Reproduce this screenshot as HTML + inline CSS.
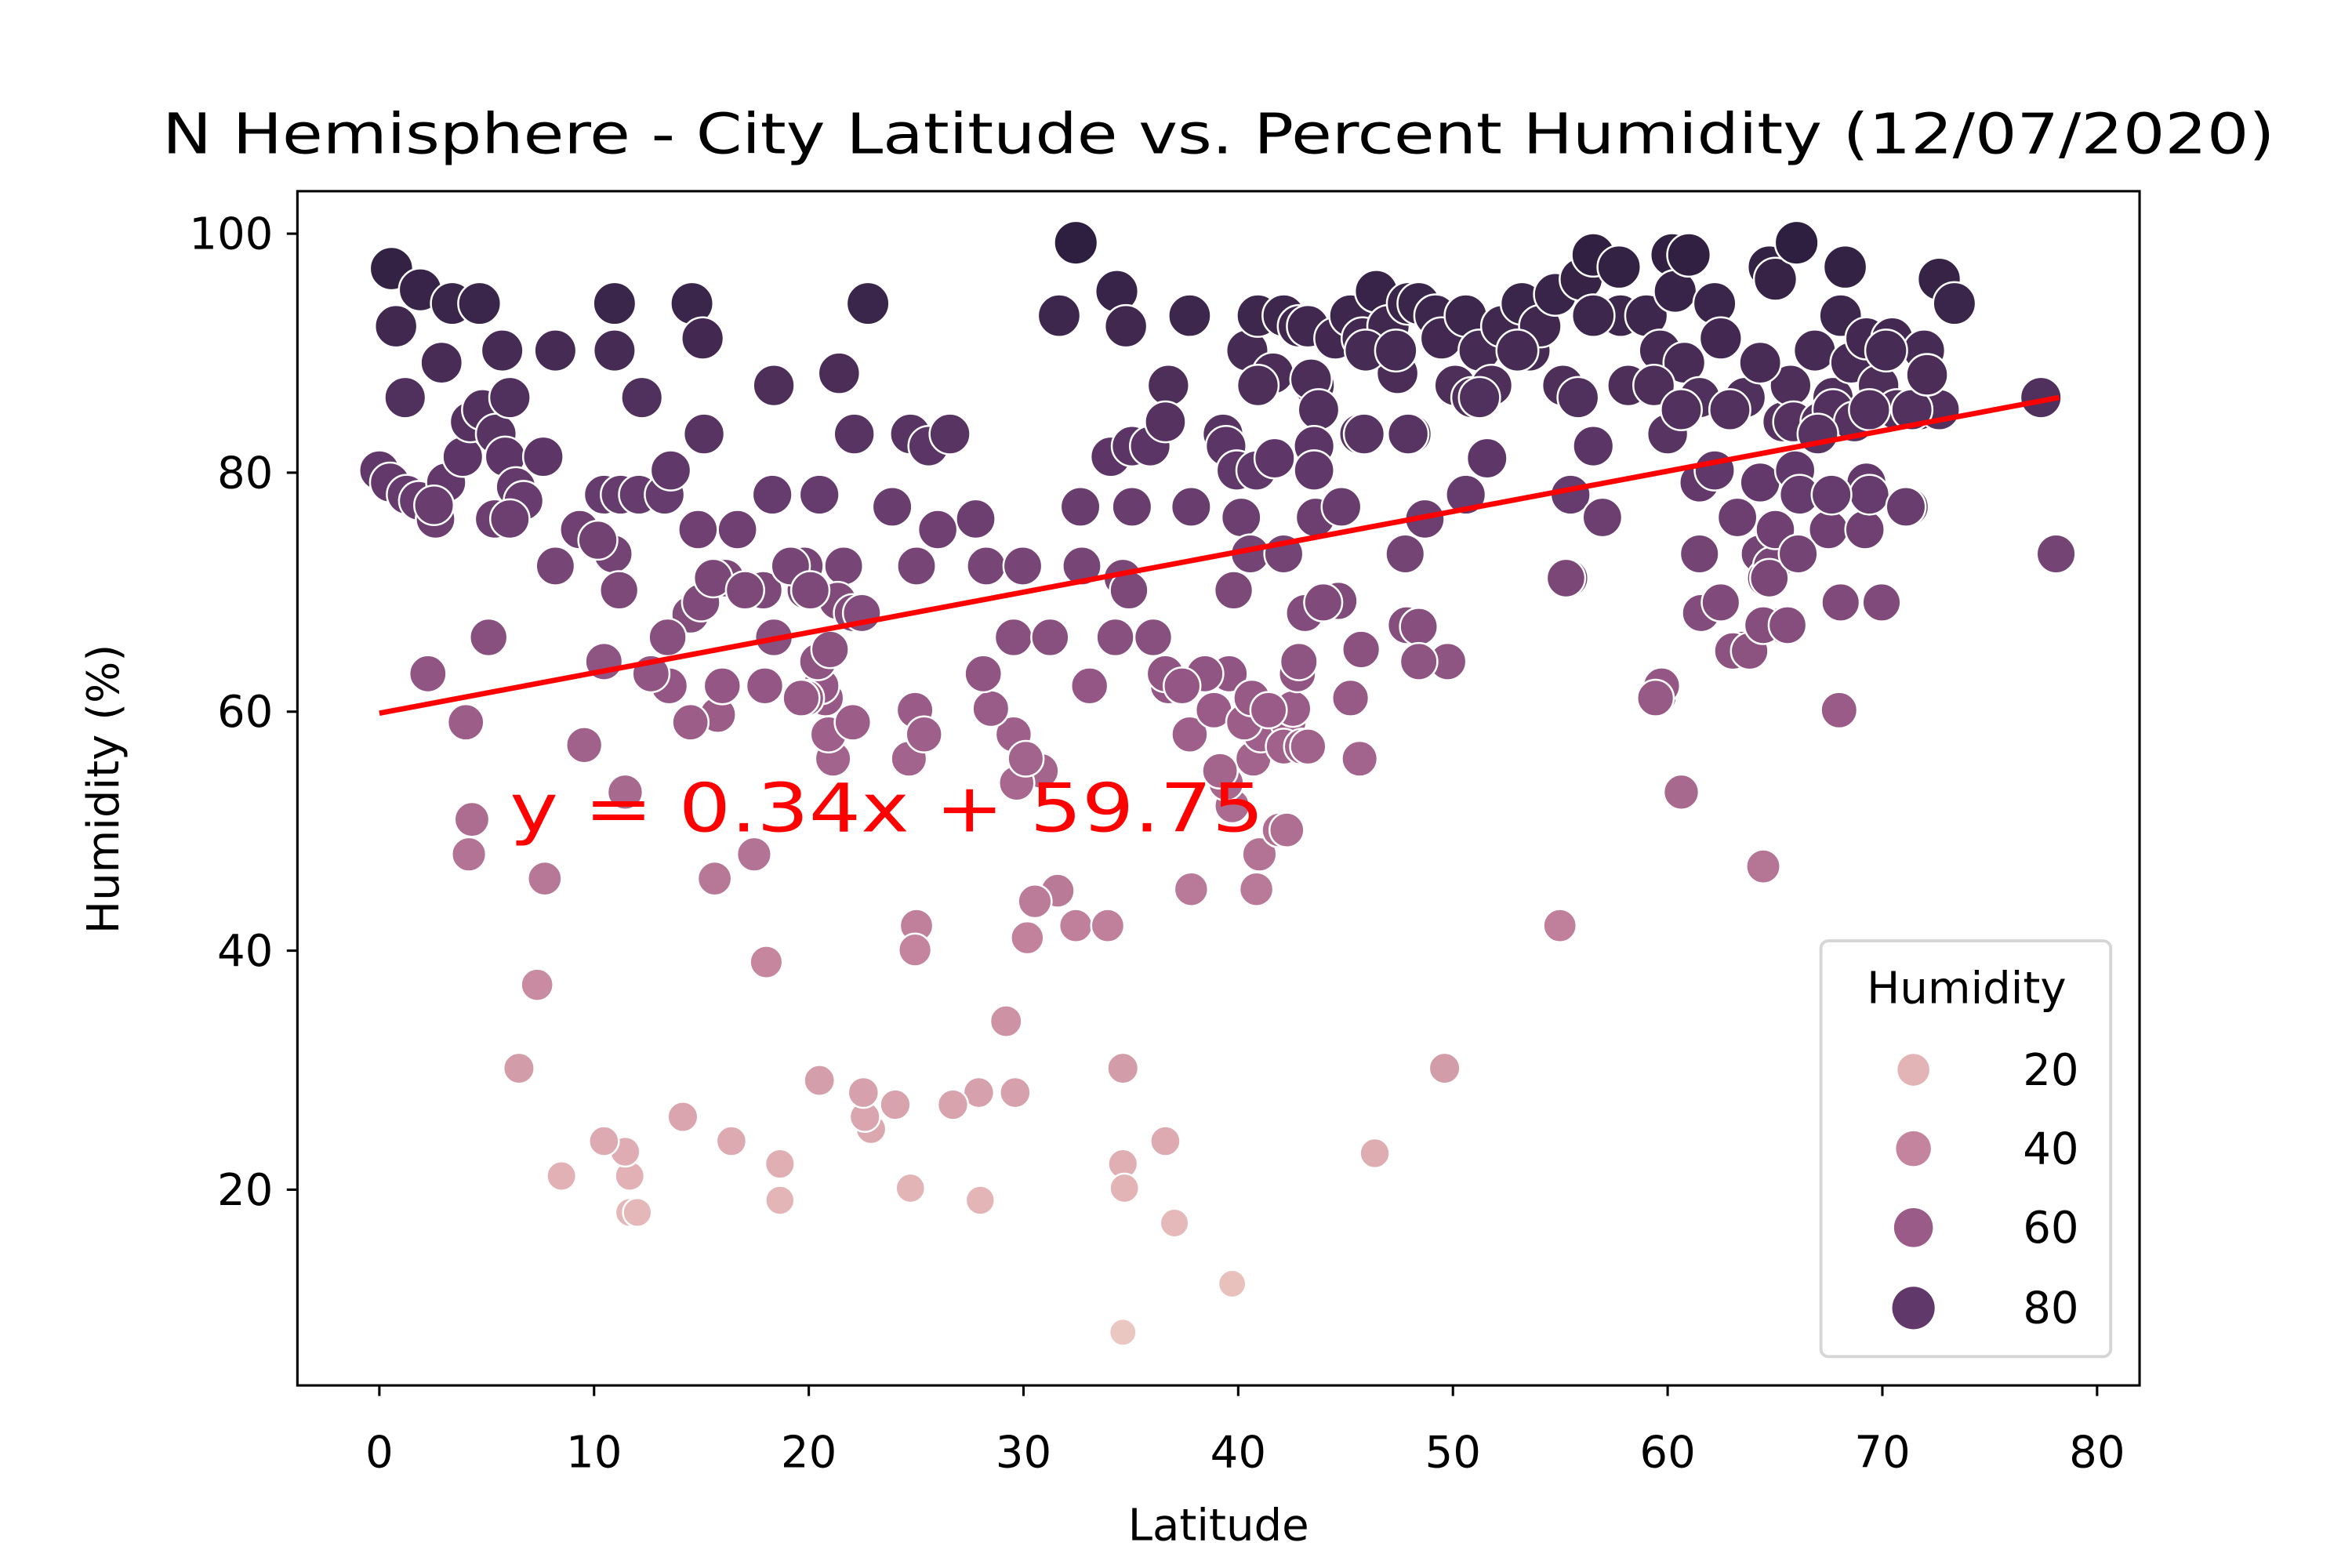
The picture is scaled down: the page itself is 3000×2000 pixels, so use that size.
<!DOCTYPE html>
<html><head><meta charset="utf-8">
<style>
html,body{margin:0;padding:0;background:#fff;}
svg{display:block;}
text{font-family:"DejaVu Sans","Liberation Sans",sans-serif;}
</style></head>
<body>
<svg id="s" width="3000" height="2000" viewBox="0 0 1550 1033.33" xmlns="http://www.w3.org/2000/svg">
<rect width="1550" height="1034" fill="#fff"/>
<g id="pts"></g>
<line x1="250" y1="470" x2="1357" y2="262" stroke="#ff0000" stroke-width="3.5"/>
<text x="336" y="548" font-size="44" fill="#ff0000" textLength="497" lengthAdjust="spacingAndGlyphs">y = 0.34x + 59.75</text>
<rect x="196" y="126" width="1214" height="787" fill="none" stroke="#000" stroke-width="1.6"/>
<g id="ticks" stroke="#000" stroke-width="1.6"></g>
<g id="tl" font-size="29" fill="#000"></g>
<text x="803" y="101" font-size="37" text-anchor="middle" textLength="1392" lengthAdjust="spacingAndGlyphs">N Hemisphere - City Latitude vs. Percent Humidity (12/07/2020)</text>
<text x="803" y="1015" font-size="29" text-anchor="middle">Latitude</text>
<text x="0" y="0" font-size="29" text-anchor="middle" transform="translate(78,520) rotate(-90)">Humidity (%)</text>
<rect x="1200" y="620" width="191" height="274" rx="5" fill="#fff" fill-opacity="0.8" stroke="#d6d6d6" stroke-width="2"/>
<text x="1296" y="661" font-size="29" text-anchor="middle">Humidity</text>
<g id="leg" font-size="29"></g>
</svg>
<script>
var stops=[[0,[240,212,200]],[20,[227,180,182]],[40,[196,132,157]],[60,[154,91,136]],[80,[97,56,106]],[100,[44,30,62]]];
function col(h){h=Math.max(0,Math.min(100,h));for(var i=0;i<stops.length-1;i++){var a=stops[i],b=stops[i+1];if(h<=b[0]){var t=(h-a[0])/(b[0]-a[0]);var c=a[1].map(function(v,k){return Math.round(v+(b[1][k]-v)*t)});return 'rgb('+c.join(',')+')';}}return 'rgb(44,30,62)';}
function rad(h){return 8.4+h*0.06;}
var P=[258,177,261,215,277,191,267,262,298,200,316,200,291,239,331,231,366,231,405,200,405,231,423,262,456,200,463,223,464,286,510,254,553,246,572,200,563,286,600,286,612,294,626,286,698,208,709,160,736,192,742,215,770,254,784,208,822,231,829,208,839,246,846,208,856,215,866,254,862,215,880,223,890,208,898,223,907,192,915,215,921,246,928,200,935,200,946,208,950,223,959,254,966,208,970,262,975,231,983,254,990,215,1003,200,1008,231,1015,215,1025,194,1030,254,1042,184,1050,168,1067,176,1068,208,1072,254,1085,208,1094,231,1102,168,1104,192,1110,239,1113,168,1120,262,1130,200,1134,223,1140,270,1150,262,1166,176,1170,184,1175,278,1184,160,1196,231,1208,262,1216,176,1213,208,1220,239,1230,223,1238,254,1247,223,1268,231,1278,184,1288,200,1265,270,1243,231,1000,231,1040,262,975,262,1050,208,896,286,930,286,864,250,829,254,869,270,900,231,920,231,1180,254,1160,239,
250,310,257,318,268,326,276,330,287,342,294,318,286,333,305,301,310,278,318,270,327,286,336,262,333,301,340,321,345,330,358,301,326,342,382,349,398,326,404,365,394,356,409,326,421,326,438,326,442,310,460,349,478,381,486,349,503,389,510,420,509,326,540,326,530,373,531,389,556,373,552,396,562,404,568,404,588,334,604,373,618,349,643,342,650,373,674,373,668,420,712,334,713,373,732,301,740,381,746,334,746,294,758,294,768,278,785,334,806,286,808,294,815,310,818,341,813,389,824,365,828,310,840,302,846,365,866,294,867,341,860,404,866,310,882,396,884,334,897,428,899,286,928,286,926,365,928,412,954,436,966,326,980,302,1035,326,1050,294,1056,341,1034,381,1073,254,1090,254,1099,286,1108,270,1093,459,1120,365,1122,404,1120,318,1130,310,1140,270,1145,341,1148,428,1160,318,1160,365,1164,381,1168,373,1170,349,1175,412,1183,310,1186,326,1182,278,1200,278,1205,349,1208,270,1222,278,1230,318,1230,349,1240,397,1258,334,1250,270,1278,270,1345,262,1355,365,
1108,522,1162,571,1028,610,952,704,906,760,812,846,740,878,774,806,768,752,740,767,741,783,740,704,729,610,709,610,697,587,682,594,677,618,663,673,669,720,645,720,646,791,628,728,600,783,590,728,574,744,570,736,569,720,540,712,514,767,514,791,482,752,450,736,415,775,412,759,415,799,420,799,398,752,370,775,342,704,354,649,359,579,309,563,311,540,471,579,497,563,505,634,604,610,603,626,730,610,785,586,828,586,830,563,843,547,848,547,812,531,808,516,826,500,831,484,849,476,846,492,852,467,858,492,862,492,855,444,810,444,794,444,770,452,784,484,804,508,692,420,718,452,686,508,668,484,653,467,648,444,670,516,676,500,599,500,603,468,609,484,549,500,546,484,544,460,541,452,539,436,547,428,562,476,531,460,528,460,504,452,473,471,476,452,455,476,441,452,429,444,455,405,462,397,470,381,491,389,521,373,534,389,385,491,366,373,336,342,322,420,307,476,282,444,398,436,408,389,412,522,440,420,735,420,744,389,760,420,768,444,779,452,800,468,820,476,825,460,836,468,856,436,872,397,890,460,896,500,927,412,935,413,935,436,1095,452,1091,460,1121,404,1134,397,1142,429,1153,429,1162,412,1166,381,1178,412,1213,397,1212,468,1229,349,1232,326,1207,326,1185,365,1032,381,939,342,1198,286,1232,270,1260,270,1270,247,1256,334];
var ns='http://www.w3.org/2000/svg',g=document.getElementById('pts');
for(var i=0;i<P.length;i+=2){var x=P[i],y=P[i+1],h=100-(y-154)/7.875;var c=document.createElementNS(ns,'circle');c.setAttribute('cx',x);c.setAttribute('cy',y);c.setAttribute('r',rad(h));c.setAttribute('fill',col(h));c.setAttribute('stroke','#fff');c.setAttribute('stroke-width','1.3');g.appendChild(c);}
var tk=document.getElementById('ticks'),tl=document.getElementById('tl');
function L(x1,y1,x2,y2){var l=document.createElementNS(ns,'line');l.setAttribute('x1',x1);l.setAttribute('y1',y1);l.setAttribute('x2',x2);l.setAttribute('y2',y2);tk.appendChild(l);}
function T(x,y,s,a){var t=document.createElementNS(ns,'text');t.setAttribute('x',x);t.setAttribute('y',y);t.setAttribute('text-anchor',a);t.textContent=s;tl.appendChild(t);}
for(var v=0;v<=80;v+=10){var x=250+v*14.15;L(x,913,x,920);T(x,967,v,'middle');}
for(var v=20;v<=100;v+=20){var y=154+(100-v)*7.875;L(196,y,189,y);T(180,y+10,v,'end');}
var lg=document.getElementById('leg'),ly=[705,757,809,862],lv=[20,40,60,80];
for(var i=0;i<4;i++){var c=document.createElementNS(ns,'circle');c.setAttribute('cx',1261);c.setAttribute('cy',ly[i]);c.setAttribute('r',[10.5,11.5,12.8,14][i]);c.setAttribute('fill',col(lv[i]));lg.appendChild(c);var t=document.createElementNS(ns,'text');t.setAttribute('x',1370);t.setAttribute('y',ly[i]+10);t.setAttribute('text-anchor','end');t.textContent=lv[i];lg.appendChild(t);}
</script>
</body></html>
